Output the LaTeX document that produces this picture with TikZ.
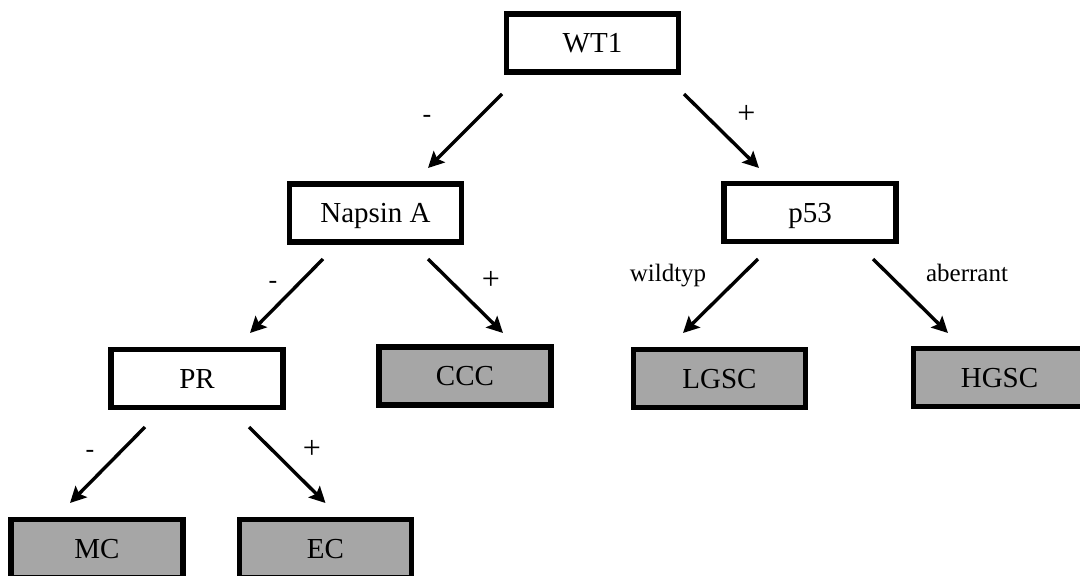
\documentclass[tikz,border=0pt]{standalone}
\usepackage{fontspec}
\setmainfont{Liberation Serif}
\usetikzlibrary{arrows.meta,calc}
\definecolor{boxgray}{HTML}{A6A6A6}
\tikzset{
  box/.style={draw=black, line width=5.5pt, fill=white, minimum width=172pt, minimum height=58pt,
    inner sep=0pt, text height=19pt, text depth=0pt, font=\fontsize{29}{34}\selectfont},
  leaf/.style={box, fill=boxgray},
  arr/.style={line width=3.4pt, -{Stealth[length=16pt,width=16pt,inset=3pt]}},
  lbl/.style={anchor=base, inner sep=0pt, font=\fontsize{25}{30}\selectfont},
  plus/.style={anchor=base, inner sep=0pt, font=\fontsize{32}{38}\selectfont},
  minus/.style={anchor=base, inner sep=0pt, font=\fontsize{26}{30}\selectfont}
}
\begin{document}
\begin{tikzpicture}[x=1pt,y=-1pt]
\useasboundingbox (0,0) rectangle (1080,576);
\clip (0,0) rectangle (1080,576);
\fill[white] (0,0) rectangle (1080,576);
% nodes
\node[box]  (WT1)    at (592.5,43)   {WT1};
\node[box]  (Napsin) at (375.5,213)  {Napsin A};
\node[box]  (p53)    at (810,212.5)  {p53};
\node[box]  (PR)     at (197,378.5)  {PR};
\node[leaf] (CCC)    at (465,376)    {CCC};
\node[leaf] (LGSC)   at (719.5,378.5){LGSC};
\node[leaf] (HGSC)   at (999.5,377.5){HGSC};
\node[leaf] (MC)     at (97,548.5)   {MC};
\node[leaf] (EC)     at (325.5,548.5){EC};
% connectors
\draw[arr] ($(WT1.center)+(-90.5,51)$)   -- ($(Napsin.center)+(52.5,-45)$);
\draw[arr] ($(WT1.center)+(91.5,51)$)    -- ($(p53.center)+(-51,-44.5)$);
\draw[arr] ($(Napsin.center)+(-52.5,46)$) -- ($(PR.center)+(53,-45.5)$);
\draw[arr] ($(Napsin.center)+(52.5,46)$)  -- ($(CCC.center)+(38,-43)$);
\draw[arr] ($(p53.center)+(-52,46.5)$)    -- ($(LGSC.center)+(-36.5,-45.5)$);
\draw[arr] ($(p53.center)+(63,46.5)$)     -- ($(HGSC.center)+(-51.5,-44.5)$);
\draw[arr] ($(PR.center)+(-52,48.5)$)     -- ($(MC.center)+(-27,-45.5)$);
\draw[arr] ($(PR.center)+(52,48.5)$)      -- ($(EC.center)+(0,-45.5)$);
% labels
\node[minus] (l1) at (427,122) {-};
\node[plus]  (l2) at (746.5,123) {+};
\node[minus] (l3) at (273,288.5) {-};
\node[plus]  (l4) at (491,289) {+};
\node[lbl]   (l5) at (668,281.5) {wildtyp};
\node[lbl]   (l6) at (967,281.5) {aberrant};
\node[minus] (l7) at (90,457.5)  {-};
\node[plus]  (l8) at (312,458) {+};
\end{tikzpicture}
\end{document}
